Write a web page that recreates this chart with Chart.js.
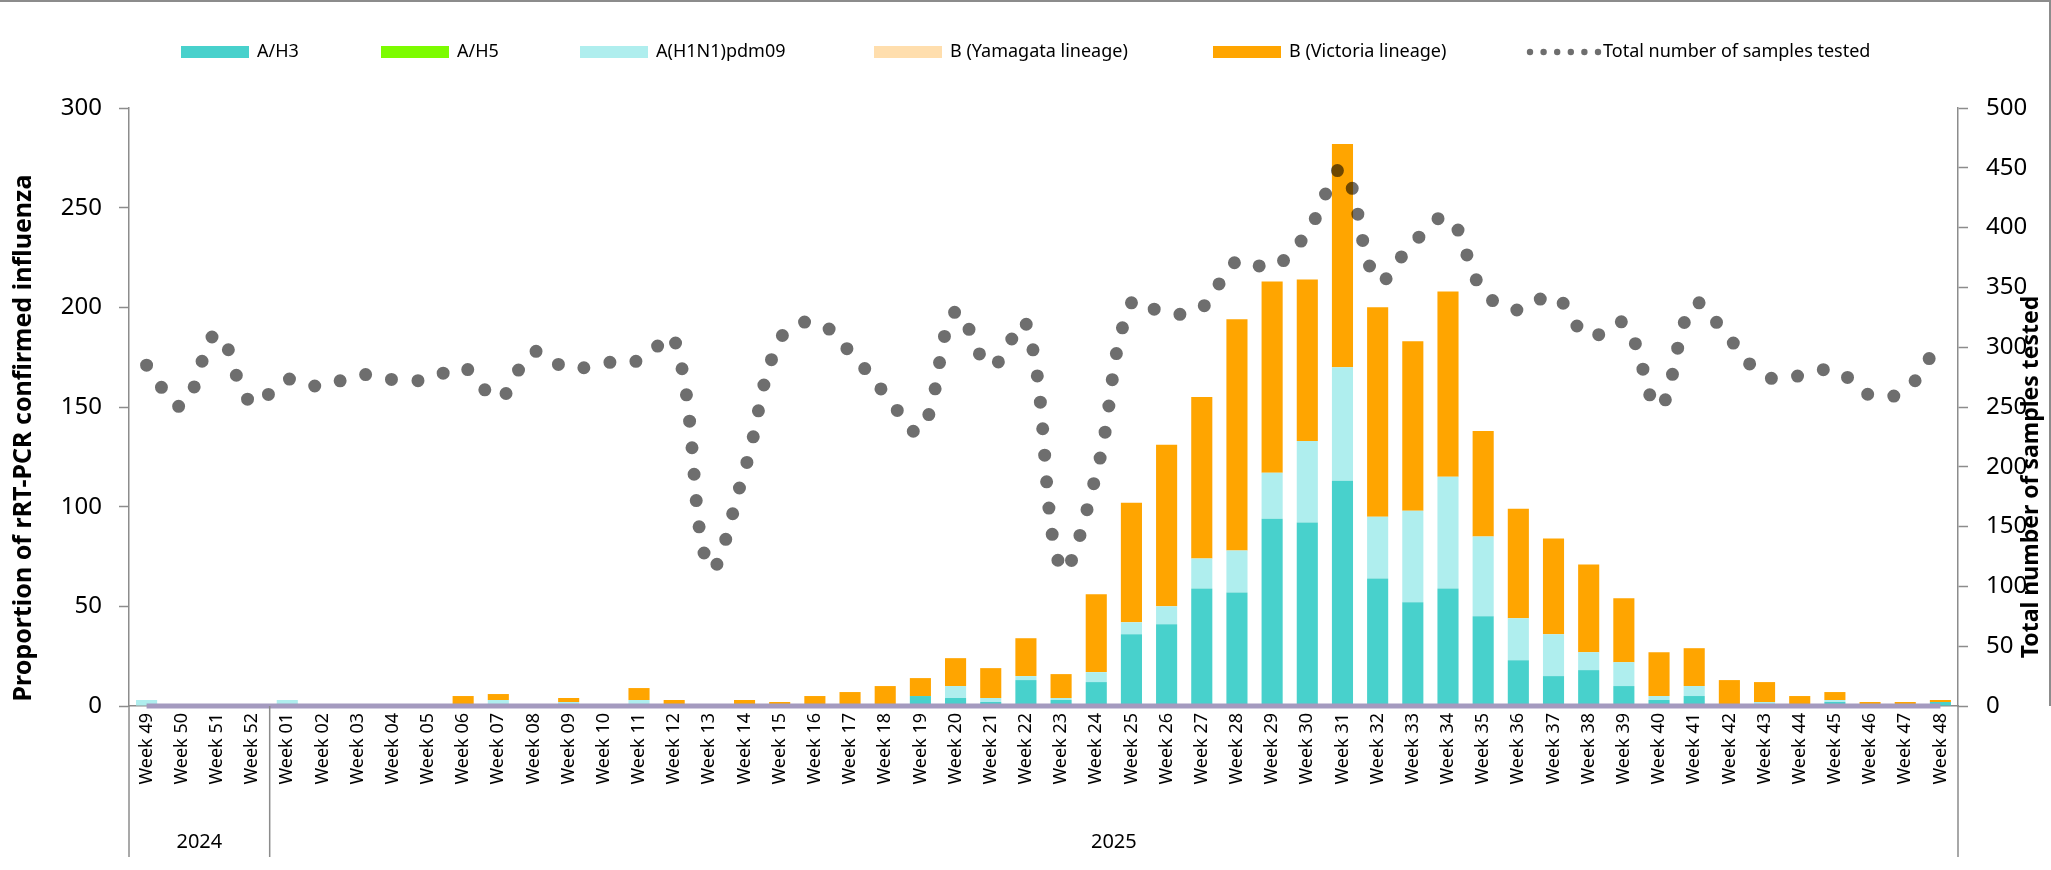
<!DOCTYPE html>
<html>
<head>
<meta charset="utf-8">
<script src="https://cdn.jsdelivr.net/npm/chart.js@4.4.1/dist/chart.umd.min.js"></script>
<style>
  html, body { margin: 0; padding: 0; background: #fff; }
  #wrap { width: 2051px; height: 870px; }
</style>
</head>
<body>
<div id="wrap"><canvas id="fluChart" width="2051" height="870"></canvas></div>
<script>
// weekly categories (2024 weeks 49-52, then 2025 weeks 01-48)
const weeks = ['Week 49', 'Week 50', 'Week 51', 'Week 52',
  'Week 01', 'Week 02', 'Week 03', 'Week 04', 'Week 05', 'Week 06', 'Week 07', 'Week 08',
  'Week 09', 'Week 10', 'Week 11', 'Week 12', 'Week 13', 'Week 14', 'Week 15', 'Week 16',
  'Week 17', 'Week 18', 'Week 19', 'Week 20', 'Week 21', 'Week 22', 'Week 23', 'Week 24',
  'Week 25', 'Week 26', 'Week 27', 'Week 28', 'Week 29', 'Week 30', 'Week 31', 'Week 32',
  'Week 33', 'Week 34', 'Week 35', 'Week 36', 'Week 37', 'Week 38', 'Week 39', 'Week 40',
  'Week 41', 'Week 42', 'Week 43', 'Week 44', 'Week 45', 'Week 46', 'Week 47', 'Week 48'];

const yearLabels = ['2024', '2025'];
const yearStarts = [0, 4];   // index of first week of each year

const aH3 = [0, 0, 0, 0, 0, 0, 0, 0, 0, 0, 0, 0, 0, 0, 0, 0, 0, 0, 0, 0, 0, 0, 5, 4, 2, 13,
  3, 12, 36, 41, 59, 57, 94, 92, 113, 64, 52, 59, 45, 23, 15, 18, 10, 3, 5, 1, 0, 0, 2, 0, 0, 2];
const aH5 = new Array(weeks.length).fill(0);
const aH1N1 = [3, 0, 1, 1, 3, 0, 1, 0, 0, 1, 3, 0, 2, 0, 3, 0, 0, 0, 1, 0, 0, 0, 0, 6, 2, 2,
  1, 5, 6, 9, 15, 21, 23, 41, 57, 31, 46, 56, 40, 21, 21, 9, 12, 2, 5, 0, 2, 0, 1, 0, 0, 0];
const bYamagata = new Array(weeks.length).fill(0);
const bVictoria = [0, 0, 0, 0, 0, 1, 0, 0, 1, 4, 3, 1, 2, 1, 6, 3, 0, 3, 1, 5, 7, 10, 9, 14, 15, 19,
  12, 39, 60, 81, 81, 116, 96, 81, 112, 105, 85, 93, 53, 55, 48, 44, 32, 22, 19, 12, 10, 5, 4, 2, 2, 1];
const totalTested = [285, 251, 311, 253, 273, 267, 277, 273, 273, 283, 257, 296, 282, 287, 289, 307,
  116, 197, 306, 321, 296, 261, 230, 330, 284, 320, 115, 194, 337, 328, 333, 372, 367, 396,
  448, 356, 387, 408, 347, 331, 343, 309, 320, 250, 336, 307, 276, 276, 281, 260, 264, 306];
const baseline = new Array(weeks.length).fill(0);

const axisColor = '#8c8c8c';
const dotColor = 'rgba(0,0,0,0.57)';
const fontFamily = '"Noto Sans", "Open Sans", sans-serif';

// legend, axis titles, year grouping and frame drawn on the canvas
const extrasPlugin = {
    id: 'extras',
    afterDraw(chart) {
        const ctx = chart.ctx;
        const area = chart.chartArea;
        const x = chart.scales.x;
        ctx.save();

        // frame lines
        ctx.strokeStyle = axisColor;
        ctx.lineWidth = 2;
        ctx.beginPath();
        ctx.moveTo(0, 1);
        ctx.lineTo(chart.width - 1, 1);
        ctx.lineTo(chart.width - 1, area.bottom);
        ctx.stroke();

        // year groups under the week labels
        const half = (x.getPixelForValue(1) - x.getPixelForValue(0)) / 2;
        ctx.lineWidth = 1.5;
        ctx.fillStyle = '#000';
        ctx.font = '20px ' + fontFamily;
        ctx.textAlign = 'center';
        ctx.textBaseline = 'middle';
        yearStarts.forEach((start, i) => {
            const end = i + 1 < yearStarts.length ? yearStarts[i + 1] : weeks.length;
            const left = x.getPixelForValue(start) - half;
            const right = x.getPixelForValue(end - 1) + half;
            ctx.beginPath();
            ctx.moveTo(left, area.bottom);
            ctx.lineTo(left, 857);
            if (i === yearStarts.length - 1) {
                ctx.moveTo(right, area.bottom);
                ctx.lineTo(right, 857);
            }
            ctx.stroke();
            ctx.fillText(yearLabels[i], (left + right) / 2, 842);
        });

        // axis titles
        ctx.save();
        ctx.font = 'bold 25px ' + fontFamily;
        ctx.translate(24, 438);
        ctx.rotate(-Math.PI / 2);
        ctx.fillText('Proportion of rRT-PCR confirmed influenza', 0, 0);
        ctx.restore();
        ctx.save();
        ctx.font = 'bold 23px ' + fontFamily;
        ctx.translate(2031, 477);
        ctx.rotate(-Math.PI / 2);
        ctx.fillText('Total number of samples tested', 0, 0);
        ctx.restore();

        // legend
        const legendX = [181, 381, 580, 874, 1213, 1527];
        const legendY = 52;
        ctx.font = '18px ' + fontFamily;
        ctx.textAlign = 'left';
        const items = chart.data.datasets.filter(d => d.label);
        items.forEach((d, i) => {
            const lx = legendX[i];
            if (d.type === 'line') {
                ctx.fillStyle = dotColor;
                for (let k = 0; k < 6; k++) {
                    ctx.beginPath();
                    ctx.arc(lx + 3 + k * 13.6, legendY, 3.2, 0, Math.PI * 2);
                    ctx.fill();
                }
            } else {
                ctx.fillStyle = d.backgroundColor;
                ctx.fillRect(lx, legendY - 6, 68, 12);
            }
            ctx.fillStyle = '#000';
            ctx.fillText(d.label, lx + 76, legendY);
        });
        ctx.restore();
    }
};

const ctx = document.getElementById('fluChart').getContext('2d');

const barSet = (label, data, color) => ({
    type: 'bar',
    label: label,
    data: data,
    backgroundColor: color,
    yAxisID: 'y',
    stack: 'flu',
    order: 2,
    categoryPercentage: 1.0,
    barPercentage: 0.6
});

new Chart(ctx, {
    data: {
        labels: weeks,
        datasets: [
            barSet('A/H3', aH3, '#48D1CC'),
            barSet('A/H5', aH5, '#7CFC00'),
            barSet('A(H1N1)pdm09', aH1N1, '#AFEEEE'),
            barSet('B (Yamagata lineage)', bYamagata, '#FFDEAD'),
            barSet('B (Victoria lineage)', bVictoria, '#FFA500'),
            {
                type: 'line',
                label: 'Total number of samples tested',
                data: totalTested,
                yAxisID: 'y1',
                borderColor: dotColor,
                borderWidth: 13,
                borderDash: [0, 26.5],
                borderCapStyle: 'round',
                borderJoinStyle: 'round',
                tension: 0.4,
                pointRadius: 0,
                fill: false,
                order: 0
            },
            {
                type: 'line',
                label: '',
                data: baseline,
                yAxisID: 'y',
                stack: 'base',
                borderColor: '#A49ABF',
                borderWidth: 5,
                pointRadius: 0,
                fill: false,
                clip: false,
                order: 1
            }
        ]
    },
    options: {
        responsive: false,
        animation: false,
        layout: { padding: { top: 108, left: 0, right: 0, bottom: 0 } },
        plugins: {
            legend: { display: false },
            tooltip: { enabled: false }
        },
        scales: {
            x: {
                stacked: true,
                grid: { drawOnChartArea: false, drawTicks: false },
                border: { color: axisColor, width: 1.5 },
                ticks: {
                    autoSkip: false,
                    minRotation: 90,
                    maxRotation: 90,
                    padding: 7,
                    color: '#000',
                    font: { family: fontFamily, size: 18 }
                },
                afterFit: s => { s.height = 164; }
            },
            y: {
                position: 'left',
                stacked: true,
                min: 0,
                max: 300,
                grid: { drawOnChartArea: false, tickLength: 10, tickColor: axisColor, tickWidth: 1.5 },
                border: { color: axisColor, width: 1.5 },
                ticks: {
                    stepSize: 50,
                    padding: 17,
                    color: '#000',
                    font: { family: fontFamily, size: 24 }
                },
                afterFit: s => { s.width = 129; }
            },
            y1: {
                position: 'right',
                min: 0,
                max: 500,
                grid: { drawOnChartArea: false, tickLength: 10, tickColor: axisColor, tickWidth: 1.5 },
                border: { color: axisColor, width: 1.5 },
                ticks: {
                    stepSize: 50,
                    padding: 18,
                    color: '#000',
                    font: { family: fontFamily, size: 24 }
                },
                afterFit: s => { s.width = 93; }
            }
        }
    },
    plugins: [extrasPlugin]
});
</script>
</body>
</html>
